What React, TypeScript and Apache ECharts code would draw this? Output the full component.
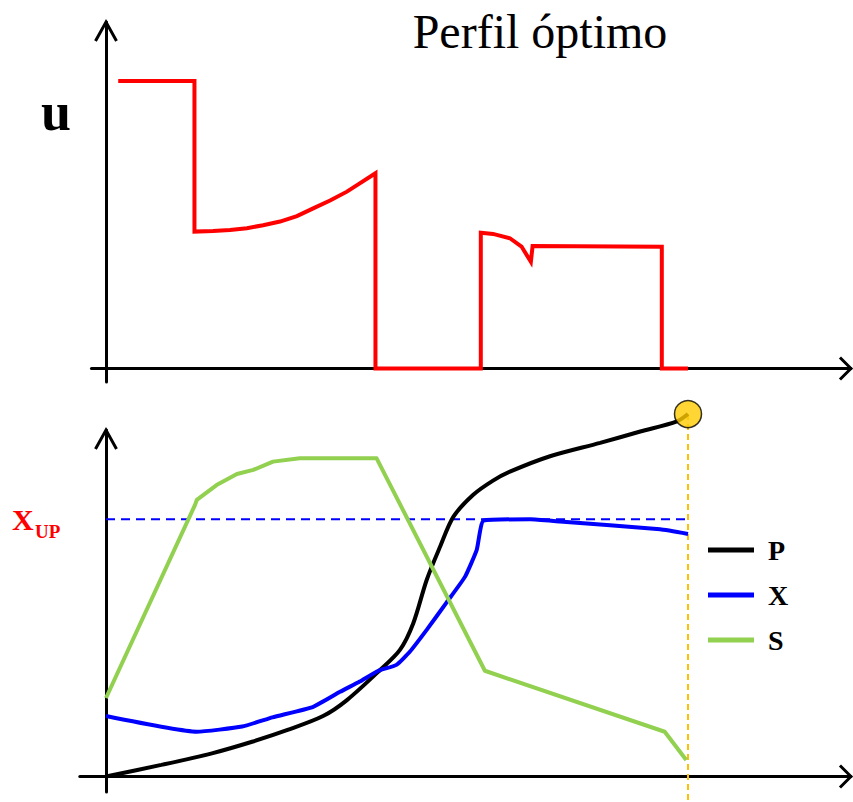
import { useEffect, useRef } from "react";
import * as echarts from "echarts";

// Control profile u(t) (top panel)
const uTime = [0.21, 1.52, 1.52, 1.84, 2.13, 2.42, 2.7, 2.99, 3.28, 3.56, 3.85, 4.14, 4.36, 4.63, 4.63, 6.44, 6.44, 6.65, 6.94, 7.14, 7.3, 7.33, 9.55, 9.55, 10.0];
const uValue = [1.0, 1.0, 0.476, 0.478, 0.482, 0.488, 0.498, 0.511, 0.53, 0.557, 0.584, 0.615, 0.644, 0.679, 0, 0, 0.472, 0.468, 0.453, 0.424, 0.371, 0.426, 0.423, 0, 0];

// States (bottom panel)
const pTime = [0, 0.95, 1.82, 2.51, 3.12, 3.73, 4.14, 4.71, 5.05, 5.28, 5.51, 5.74, 5.97, 6.31, 6.65, 6.94, 7.63, 8.49, 9.18, 9.81, 10.0];
const pValue = [0, 0.045, 0.09, 0.135, 0.181, 0.235, 0.297, 0.414, 0.492, 0.596, 0.764, 0.893, 1.01, 1.095, 1.15, 1.185, 1.245, 1.297, 1.341, 1.381, 1.409];

const xTime = [0, 1.56, 2.34, 2.86, 3.56, 4.02, 4.36, 4.68, 4.99, 5.22, 5.51, 5.85, 6.17, 6.37, 6.49, 7.29, 7.8, 9.52, 10.0];
const xValue = [0.235, 0.174, 0.194, 0.23, 0.271, 0.329, 0.369, 0.411, 0.434, 0.485, 0.57, 0.676, 0.777, 0.881, 0.995, 1.0, 0.991, 0.961, 0.943];

const sTime = [0, 1.53, 1.56, 1.9, 2.25, 2.53, 2.87, 3.33, 4.65, 6.51, 9.6, 9.97];
const sValue = [0.305, 1.056, 1.075, 1.133, 1.176, 1.192, 1.224, 1.237, 1.237, 0.411, 0.174, 0.064];

const seriesNames = ["P", "X", "S"];
const xUpLevel = 1.0;
const finalTime = 10.0;
const finalP = 1.409;

// Axis extents
const T_MIN_TOP = -0.25;
const T_MIN_BOTTOM = -0.45;
const T_MAX = 12.8;
const U_MIN = -0.047;
const U_MAX = 1.205;
const V_MIN = -0.0603;
const V_MAX = 1.347;

// Layout
const ORIGIN_X = 106;
const PX_PER_T = 58.2;
const FONT_SERIF = '"Liberation Serif", "Times New Roman", "DejaVu Serif", serif';

const RED = "#FF0000";
const BLUE = "#0000FF";
const GREEN = "#92D050";
const GOLD = "#FFC000";

const zip = (t: number[], v: number[]) => t.map((x, i) => [x, v[i]]);

const hiddenAxisParts = {
  axisTick: { show: false },
  axisLabel: { show: false },
  splitLine: { show: false },
};

const axisLine = { onZero: true, lineStyle: { color: "#000", width: 3 } };

export default function App() {
  const ref = useRef<HTMLDivElement>(null);

  useEffect(() => {
    if (!ref.current) return;
    const chart = echarts.init(ref.current, undefined, { renderer: "svg" });

    const gridTopLeft = ORIGIN_X + T_MIN_TOP * PX_PER_T;
    const gridBottomLeft = ORIGIN_X + T_MIN_BOTTOM * PX_PER_T;

    chart.setOption({
      animation: false,
      backgroundColor: "#fff",
      grid: [
        { left: gridTopLeft, top: 22, width: (T_MAX - T_MIN_TOP) * PX_PER_T, height: 360 },
        { left: gridBottomLeft, top: 430, width: (T_MAX - T_MIN_BOTTOM) * PX_PER_T, height: 362 },
      ],
      xAxis: [
        { gridIndex: 0, type: "value", min: T_MIN_TOP, max: T_MAX, axisLine, ...hiddenAxisParts },
        { gridIndex: 1, type: "value", min: T_MIN_BOTTOM, max: T_MAX, axisLine, ...hiddenAxisParts },
      ],
      yAxis: [
        { gridIndex: 0, type: "value", min: U_MIN, max: U_MAX, axisLine, ...hiddenAxisParts },
        { gridIndex: 1, type: "value", min: V_MIN, max: V_MAX, axisLine, ...hiddenAxisParts },
      ],
      legend: {
        data: seriesNames,
        orient: "vertical",
        left: 703,
        top: 530,
        icon: "rect",
        itemWidth: 46,
        itemHeight: 5,
        itemGap: 15,
        selectedMode: false,
        textStyle: {
          fontFamily: FONT_SERIF,
          fontWeight: "bold",
          fontSize: 28,
          lineHeight: 30,
          color: "#000",
          padding: [0, 0, 0, 9],
        },
      },
      series: [
        {
          name: "u",
          type: "line",
          xAxisIndex: 0,
          yAxisIndex: 0,
          data: zip(uTime, uValue),
          showSymbol: false,
          lineStyle: { color: RED, width: 4, join: "miter" },
          itemStyle: { color: RED },
        },
        {
          name: "xup",
          type: "line",
          xAxisIndex: 1,
          yAxisIndex: 1,
          data: [[0, xUpLevel], [finalTime, xUpLevel]],
          showSymbol: false,
          lineStyle: { color: BLUE, width: 2, type: [9, 6] },
          z: 1,
        },
        {
          name: "final",
          type: "line",
          xAxisIndex: 1,
          yAxisIndex: 1,
          data: [[finalTime, finalP], [finalTime, V_MIN - 0.04]],
          showSymbol: false,
          clip: false,
          lineStyle: { color: GOLD, width: 2, type: [6, 4] },
          z: 1,
        },
        {
          name: "P",
          type: "line",
          xAxisIndex: 1,
          yAxisIndex: 1,
          data: zip(pTime, pValue),
          showSymbol: false,
          smooth: 0.3,
          clip: false,
          lineStyle: { color: "#000", width: 4 },
          itemStyle: { color: "#000" },
          z: 2,
        },
        {
          name: "X",
          type: "line",
          xAxisIndex: 1,
          yAxisIndex: 1,
          data: zip(xTime, xValue),
          showSymbol: false,
          smooth: 0.15,
          lineStyle: { color: BLUE, width: 4 },
          itemStyle: { color: BLUE },
          z: 3,
        },
        {
          name: "S",
          type: "line",
          xAxisIndex: 1,
          yAxisIndex: 1,
          data: zip(sTime, sValue),
          showSymbol: false,
          lineStyle: { color: GREEN, width: 4, join: "round" },
          itemStyle: { color: GREEN },
          z: 4,
        },
        {
          name: "Pfinal",
          type: "scatter",
          xAxisIndex: 1,
          yAxisIndex: 1,
          data: [[finalTime, finalP]],
          symbolSize: 27,
          clip: false,
          itemStyle: { color: "#FFCC00", borderColor: "#000", borderWidth: 1.5 },
          z: 6,
        },
      ],
    });

    // Open arrowheads at the ends of the four axes
    const yTipTop = chart.convertToPixel({ gridIndex: 0 }, [0, U_MAX]) as number[];
    const xTipTop = chart.convertToPixel({ gridIndex: 0 }, [T_MAX, 0]) as number[];
    const yTipBottom = chart.convertToPixel({ gridIndex: 1 }, [0, V_MAX]) as number[];
    const xTipBottom = chart.convertToPixel({ gridIndex: 1 }, [T_MAX, 0]) as number[];
    const xUpPx = chart.convertToPixel({ gridIndex: 1 }, [0, xUpLevel]) as number[];

    const upArrow = (p: number[]) => ({
      type: "polyline",
      shape: { points: [[p[0] - 10.5, p[1] + 19], [p[0], p[1]], [p[0] + 10.5, p[1] + 19]] },
      style: { stroke: "#000", lineWidth: 3, fill: null },
      z: 10,
    });
    const rightArrow = (p: number[]) => ({
      type: "polyline",
      shape: { points: [[p[0] - 11, p[1] - 11], [p[0], p[1]], [p[0] - 11, p[1] + 11]] },
      style: { stroke: "#000", lineWidth: 3, fill: null },
      z: 10,
    });

    chart.setOption({
      graphic: [
        upArrow(yTipTop),
        rightArrow(xTipTop),
        upArrow(yTipBottom),
        rightArrow(xTipBottom),
        {
          type: "text",
          x: 540,
          y: 31,
          style: {
            text: "Perfil óptimo",
            fontFamily: FONT_SERIF,
            fontSize: 48,
            fill: "#000",
            align: "center",
            verticalAlign: "middle",
          },
        },
        {
          type: "text",
          x: 56,
          y: 112,
          style: {
            text: "u",
            fontFamily: FONT_SERIF,
            fontWeight: "bold",
            fontSize: 54,
            fill: "#000",
            align: "center",
            verticalAlign: "middle",
          },
        },
        {
          type: "text",
          x: 12,
          y: xUpPx[1],
          style: {
            text: "X",
            fontFamily: FONT_SERIF,
            fontWeight: "bold",
            fontSize: 30,
            fill: RED,
            align: "left",
            verticalAlign: "middle",
          },
        },
        {
          type: "text",
          x: 35,
          y: xUpPx[1] + 12,
          style: {
            text: "UP",
            fontFamily: FONT_SERIF,
            fontWeight: "bold",
            fontSize: 19,
            fill: RED,
            align: "left",
            verticalAlign: "middle",
          },
        },
      ],
    });

    return () => chart.dispose();
  }, []);

  return (
    <div
      ref={ref}
      style={{ position: "absolute", left: 0, top: 0, width: 853, height: 802 }}
    />
  );
}
